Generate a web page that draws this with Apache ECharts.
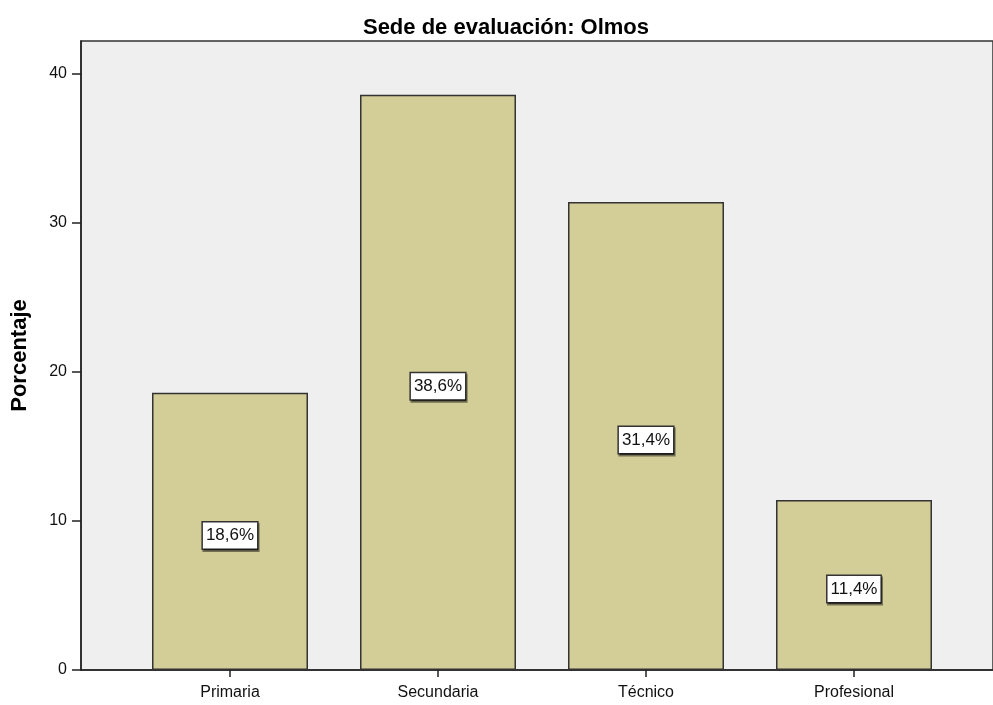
<!DOCTYPE html>
<html>
<head>
<meta charset="utf-8">
<script src="https://cdn.jsdelivr.net/npm/echarts@6/dist/echarts.min.js"></script>
<style>
html,body{margin:0;padding:0;background:#fff;}
#chart{width:993px;height:705px;}
</style>
</head>
<body>
<div id="chart"></div>
<script>
const titleText = "Sede de evaluación: Olmos";
const yAxisName = "Porcentaje";
const categories = ["Primaria", "Secundaria", "Técnico", "Profesional"];
const values = [18.6, 38.6, 31.4, 11.4];
const labelTexts = ["18,6%", "38,6%", "31,4%", "11,4%"];
const yTicks = [0, 10, 20, 30, 40];

const chart = echarts.init(document.getElementById('chart'), null, {renderer: 'canvas'});
const FONT = "'Liberation Sans', Arial, sans-serif";
const yMax = 42.2;

chart.setOption({
  animation: false,
  backgroundColor: '#ffffff',
  title: {
    text: titleText,
    left: 501, top: 12, textAlign: 'center',
    textStyle: {fontFamily: FONT, fontWeight: 'bold', fontSize: 22, color: '#000'}
  },
  grid: [
    {left: 81, top: 41, width: 940, bottom: 35, show: true, backgroundColor: '#efefef', borderColor: '#333', borderWidth: 1.5},
    {left: 126, top: 41, width: 832, bottom: 35}
  ],
  xAxis: [
    {type: 'value', gridIndex: 0, min: 0, max: 1, show: true,
     axisLine: {show: true, onZero: false, lineStyle: {color: '#222', width: 1.5}},
     axisTick: {show: false}, axisLabel: {show: false}, splitLine: {show: false}},
    {type: 'category', gridIndex: 1, data: categories,
     axisLine: {show: false}, axisTick: {show: true, alignWithLabel: true, length: 7, lineStyle: {color: '#222', width: 1.5}},
     axisLabel: {fontFamily: FONT, fontSize: 16, color: '#111', margin: 15}}
  ],
  yAxis: [
    {type: 'value', gridIndex: 0, min: 0, max: yMax, interval: 10,
     name: yAxisName, nameLocation: 'middle', nameGap: 50, nameRotate: 90,
     nameTextStyle: {fontFamily: FONT, fontWeight: 'bold', fontSize: 22, color: '#000'},
     axisLine: {show: true, lineStyle: {color: '#222', width: 1.5}},
     axisTick: {show: true, inside: false, length: 9, customValues: yTicks, lineStyle: {color: '#222', width: 1.5}},
     axisLabel: {fontFamily: FONT, fontSize: 16, color: '#111', margin: 14, customValues: yTicks},
     splitLine: {show: false}},
    {type: 'value', gridIndex: 1, min: 0, max: yMax, show: false}
  ],
  series: [{
    type: 'bar', xAxisIndex: 1, yAxisIndex: 1,
    data: values, barCategoryGap: '25%',
    itemStyle: {color: '#d3cd97', borderColor: '#333', borderWidth: 1.5},
    label: {
      show: true, position: 'inside', offset: [0, 4],
      formatter: p => labelTexts[p.dataIndex],
      fontFamily: FONT, fontSize: 17, color: '#111',
      backgroundColor: '#fff', borderColor: '#333', borderWidth: 1.5,
      padding: [5, 3, 4, 3],
      shadowColor: 'rgba(0,0,0,0.45)', shadowOffsetX: 1, shadowOffsetY: 2, shadowBlur: 0
    }
  }]
});
</script>
</body>
</html>
